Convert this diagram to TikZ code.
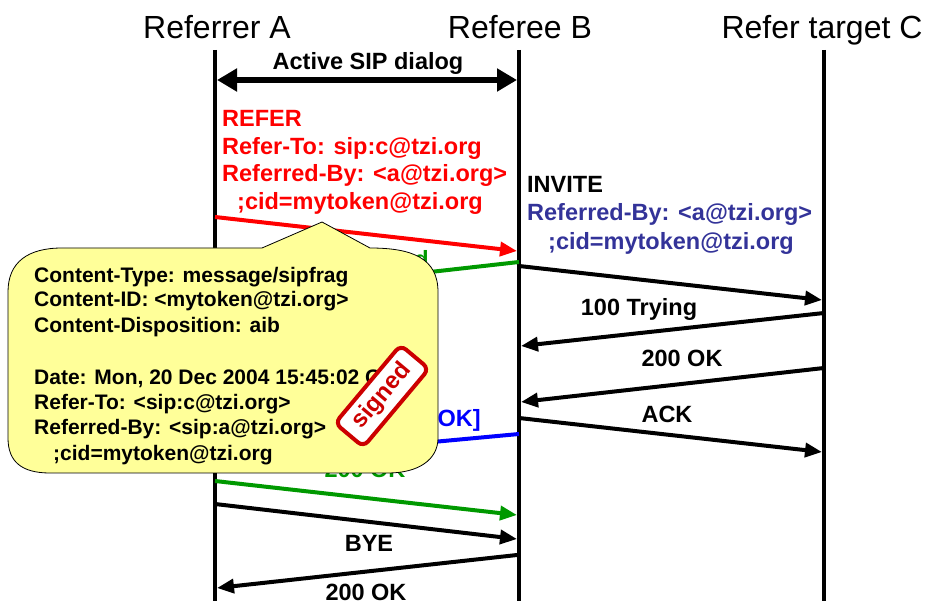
\documentclass[tikz,border=0pt]{standalone}
\usepackage{fontspec}
\setmainfont{Liberation Sans}
\usetikzlibrary{arrows.meta}
\definecolor{referred}{RGB}{255,0,0}
\definecolor{okgreen}{RGB}{0,153,0}
\definecolor{invblue}{RGB}{51,51,153}
\definecolor{notblue}{RGB}{0,0,255}
\definecolor{noteyellow}{RGB}{255,255,153}
\definecolor{stampred}{RGB}{204,0,0}
\begin{document}
\begin{tikzpicture}[x=1pt,y=-1pt,
  lifeline/.style={line width=4pt},
  msg/.style={line width=4pt,-{Triangle[length=17pt,width=14pt]}},
  header/.style={font=\fontsize{32}{38}\selectfont, inner sep=0pt, anchor=base},
  lbl/.style={font=\fontsize{23.5}{28}\selectfont\bfseries, inner sep=0pt},
  note/.style={font=\fontsize{21}{25}\selectfont\bfseries, inner sep=0pt, anchor=base west},
  callout/.style={fill=noteyellow, draw=black, line width=0.8pt},
  stampbox/.style={draw=stampred, fill=white, line width=4pt, rounded corners=7pt,
    minimum width=102pt, minimum height=37pt, text=stampred,
    font=\fontsize{24}{28}\selectfont\bfseries, inner sep=0pt}]
\useasboundingbox (0,0) rectangle (927,601);

% participants
\node[header] (hA) at (217,39) {Referrer A};
\node[header] (hB) at (520,39) {Referee B};
\node[header] (hC) at (822,39) {Refer target C};

% lifelines
\coordinate (A0) at (215,50); \coordinate (A1) at (215,601);
\coordinate (B0) at (519,50); \coordinate (B1) at (519,601);
\coordinate (C0) at (824,50); \coordinate (C1) at (824,601);
\draw[lifeline] (A0) -- (A1);
\draw[lifeline] (B0) -- (B1);
\draw[lifeline] (C0) -- (C1);

% existing dialog
\coordinate (dA) at (217,80); \coordinate (dB) at (517,80);
\draw[line width=6pt,{Triangle[length=20pt,width=22pt]}-{Triangle[length=20pt,width=22pt]}] (dA) -- (dB);
\node[lbl, anchor=base] (dlg) at (368,70) {Active SIP dialog};

% REFER request
\node[lbl, anchor=base west, text=referred] (r1) at (222,127) {REFER};
\node[lbl, anchor=base west, text=referred] (r2) at (222,155) {Refer-To: sip:c@tzi.org};
\node[lbl, anchor=base west, text=referred] (r3) at (222,182) {Referred-By: <a@tzi.org>};
\node[lbl, anchor=base west, text=referred] (r4) at (237,210) {;cid=mytoken@tzi.org};
\coordinate (m1s) at (215,217); \coordinate (m1e) at (517,251);
\draw[msg, referred] (m1s) -- (m1e);

% 202 Accepted
\node[lbl, anchor=base east, text=okgreen] (acc) at (429,268) {202 Accepted};
\coordinate (m2s) at (519,262); \coordinate (m2e) at (217,296);
\draw[msg, okgreen] (m2s) -- (m2e);

% INVITE towards C
\node[lbl, anchor=base west] (i1) at (527,193) {INVITE};
\node[lbl, anchor=base west, text=invblue] (i2) at (527,221) {Referred-By: <a@tzi.org>};
\node[lbl, anchor=base west, text=invblue] (i3) at (548,250) {;cid=mytoken@tzi.org};
\coordinate (m3s) at (519,266); \coordinate (m3e) at (822,300);
\draw[msg] (m3s) -- (m3e);

% 100 Trying
\node[lbl, anchor=base] (try) at (639,316) {100 Trying};
\coordinate (m4s) at (824,313); \coordinate (m4e) at (521,346);
\draw[msg] (m4s) -- (m4e);

% 200 OK from C
\node[lbl, anchor=base] (ok1) at (682,367) {200 OK};
\coordinate (m5s) at (824,368); \coordinate (m5e) at (521,402);
\draw[msg] (m5s) -- (m5e);

% ACK
\node[lbl, anchor=base] (ack) at (667,423) {ACK};
\coordinate (m6s) at (519,418); \coordinate (m6e) at (822,452);
\draw[msg] (m6s) -- (m6e);

% NOTIFY
\node[lbl, anchor=base east, text=notblue] (ntf) at (481,427) {NOTIFY [200 OK]};
\coordinate (m7s) at (519,434); \coordinate (m7e) at (217,462);
\draw[msg, notblue] (m7s) -- (m7e);

% 200 OK for NOTIFY
\node[lbl, anchor=base, text=okgreen] (ok2) at (365,478) {200 OK};
\coordinate (m8s) at (215,481); \coordinate (m8e) at (517,515);
\draw[msg, okgreen] (m8s) -- (m8e);

% BYE
\node[lbl, anchor=base] (bye) at (369,551) {BYE};
\coordinate (m9s) at (215,504); \coordinate (m9e) at (517,539);
\draw[msg] (m9s) -- (m9e);

% 200 OK for BYE
\node[lbl, anchor=base] (ok3) at (366,600) {200 OK};
\coordinate (m10s) at (517,555); \coordinate (m10e) at (217,588);
\draw[msg] (m10s) -- (m10e);

% callout with the signed sipfrag body
\draw[callout] (8,292) .. controls (8,262) and (28,248) .. (62,248)
  -- (262,248) -- (322,222) -- (370,248)
  .. controls (412,248) and (438,258) .. (438,292)
  -- (438,438) .. controls (438,460) and (418,473) .. (388,473)
  -- (50,473) .. controls (22,473) and (8,462) .. (8,438) -- cycle;
\node[note] (n1) at (34,283) {Content-Type: message/sipfrag};
\node[note] (n2) at (34,307) {Content-ID: <mytoken@tzi.org>};
\node[note] (n3) at (34,333) {Content-Disposition: aib};
\node[note] (n4) at (34,385) {Date: Mon, 20 Dec 2004 15:45:02 GMT};
\node[note] (n5) at (34,410) {Refer-To: <sip:c@tzi.org>};
\node[note] (n6) at (34,435) {Referred-By: <sip:a@tzi.org>};
\node[note] (n7) at (53,461) {;cid=mytoken@tzi.org};

% signature stamp
\node[stampbox, rotate=50] (stamp) at (382,396) {signed};
\end{tikzpicture}
\end{document}
